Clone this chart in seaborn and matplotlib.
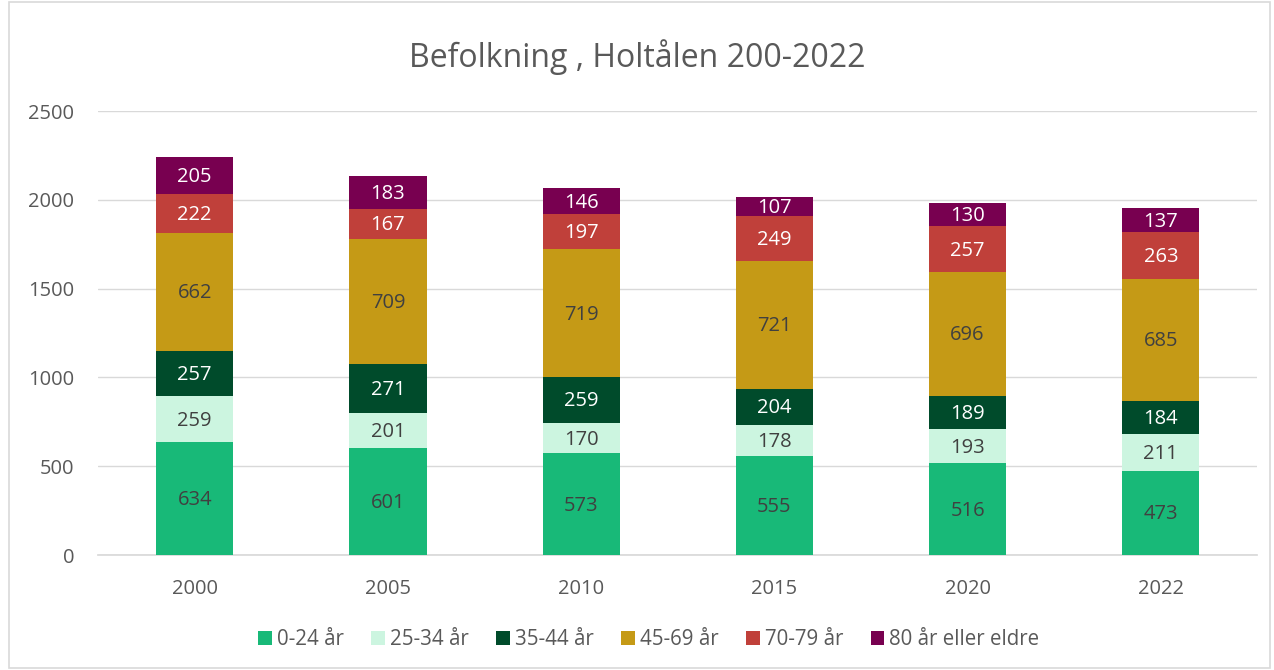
import matplotlib
matplotlib.use("Agg")
import matplotlib.pyplot as plt
import seaborn as sns
import pandas as pd
import numpy as np
from matplotlib.patches import Rectangle

years = ["2000", "2005", "2010", "2015", "2020", "2022"]
groups = ["0-24 år", "25-34 år", "35-44 år", "45-69 år", "70-79 år", "80 år eller eldre"]
v_0_24 = [634, 601, 573, 555, 516, 473]
v_25_34 = [259, 201, 170, 178, 193, 211]
v_35_44 = [257, 271, 259, 204, 189, 184]
v_45_69 = [662, 709, 719, 721, 696, 685]
v_70_79 = [222, 167, 197, 249, 257, 263]
v_80 = [205, 183, 146, 107, 130, 137]
series = [v_0_24, v_25_34, v_35_44, v_45_69, v_70_79, v_80]
colors = ["#18B978", "#CCF5E0", "#004B2B", "#C59A16", "#C0403A", "#780050"]
label_colors = ["#404040", "#404040", "white", "#404040", "white", "white"]

sns.set_theme(style="white")
plt.rcParams["font.family"] = ["Open Sans", "DejaVu Sans"]
txt = "#595959"

fig = plt.figure(figsize=(12.74, 6.70), dpi=100)
fig.patches.append(Rectangle((0.007, 0.003), 0.99, 0.994, transform=fig.transFigure,
                             fill=False, edgecolor="#D9D9D9", linewidth=1.2))
ax = fig.add_axes([0.077, 0.1716, 0.91, 0.6627])

arr = np.array(series, dtype=float)
cum = np.cumsum(arr, axis=0)

for i in range(len(groups) - 1, -1, -1):
    df = pd.DataFrame({"year": years, "val": cum[i]})
    sns.barplot(data=df, x="year", y="val", color=colors[i], width=0.4,
                saturation=1, ax=ax, label=groups[i], zorder=3, linewidth=0)

for i in range(len(groups)):
    for j in range(len(years)):
        bottom = cum[i][j] - arr[i][j]
        ax.text(j, bottom + arr[i][j] / 2 - 8, str(series[i][j]), ha="center", va="center",
                fontsize=14.5, color=label_colors[i], zorder=5)

ax.set_ylim(0, 2500)
ax.set_xlim(-0.5, 5.5)
ax.set_yticks([0, 500, 1000, 1500, 2000, 2500])
ax.yaxis.grid(True, color="#D9D9D9", linewidth=1)
ax.set_axisbelow(True)
for s in ax.spines.values():
    s.set_visible(False)
ax.spines["bottom"].set_visible(True)
ax.spines["bottom"].set_color("#D9D9D9")
ax.set_xlabel("")
ax.set_ylabel("")
ax.tick_params(axis="both", colors=txt, labelsize=14.5, length=0)
ax.tick_params(axis="x", pad=17)
ax.tick_params(axis="y", pad=17)

handles, labels = ax.get_legend_handles_labels()
order = [labels.index(g) for g in groups]
ax.legend([handles[k] for k in order], groups, loc="center", bbox_to_anchor=(0.475, -0.19),
          ncol=6, frameon=False, fontsize=14.8, labelcolor=txt, handlelength=0.65,
          handleheight=0.65, handletextpad=0.25, columnspacing=1.35)

fig.text(0.5, 0.915, "Befolkning , Holtålen 200-2022", ha="center", va="center",
         fontsize=23, color=txt)

fig.savefig("out.png", dpi=100)
